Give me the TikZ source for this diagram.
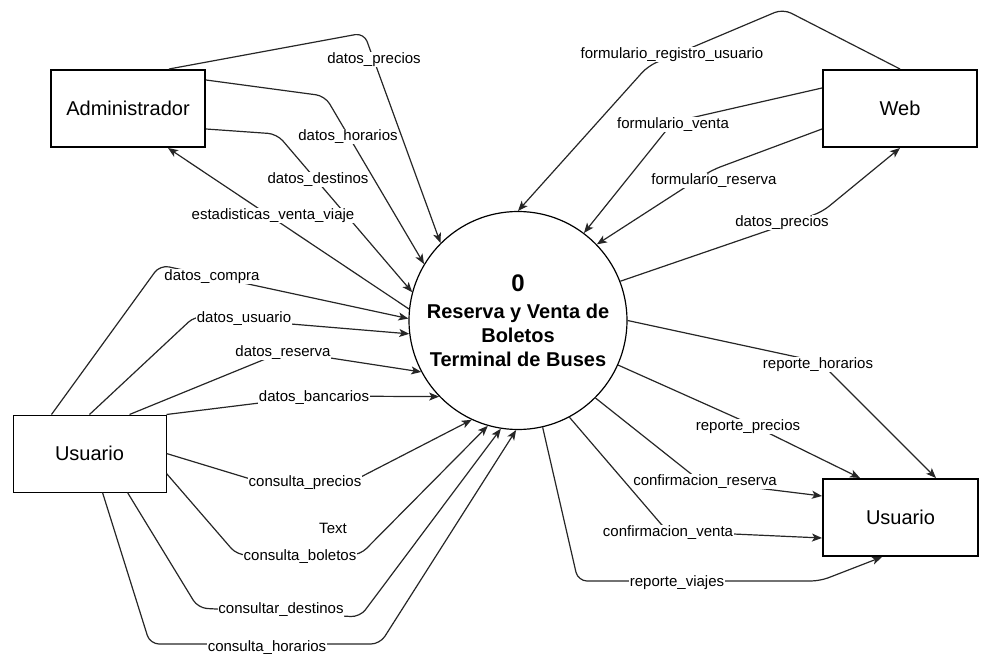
\documentclass[tikz,border=0pt]{standalone}
\usepackage{fontspec}
\setmainfont{Liberation Sans}
\usetikzlibrary{arrows.meta}
\begin{document}
\begin{tikzpicture}[x=1pt,y=-1pt,
  flow/.style={draw=black!85, line width=1.2pt, rounded corners=9pt, -{Stealth[length=10pt,width=8pt,inset=2.5pt]}},
  lbl/.style={fill=white, inner sep=0.6pt, yshift=-1.8pt, font=\fontsize{15}{18}\selectfont},
  entity/.style={draw, line width=2pt, minimum width=154pt, minimum height=77pt, font=\fontsize{20}{24}\selectfont, inner sep=0pt},
  process/.style={draw, circle, line width=1.2pt, minimum size=218pt, inner sep=0pt, align=center, font=\bfseries\fontsize{20}{24}\selectfont},
]
\useasboundingbox (0,0) rectangle (1005,661);

% nodes
\node[entity] (admin) at (128,108.5) {Administrador};
\node[entity] (web) at (900,108.5) {Web};
\node[entity, line width=1pt, minimum width=153pt] (userL) at (89.5,453.5) {Usuario};
\node[entity, minimum width=155pt] (userR) at (900.5,517.5) {Usuario};
\node[process] (proc) at (518,320.5) {{\fontsize{24}{28}\selectfont 0}\\[3pt]Reserva y Venta de\\Boletos\\Terminal de Buses};

% Administrador flows
\draw[flow] ([xshift=119pt]admin.north west) -- (364,33) -- (proc.135);
\draw[flow] ([yshift=-11pt]admin.north east) -- (325,96) -- (proc.149);
\draw[flow] ([yshift=19pt]admin.south east) -- (277,134) -- (proc.165);
\draw[flow] (proc.174) -- ([xshift=118pt]admin.south west);

% Usuario (left) flows
\draw[flow] ([xshift=39pt]userL.north west) -- (160,265) -- (proc.179);
\draw[flow] (userL.north) -- (195,316) -- (proc.187);
\draw[flow] ([xshift=117pt]userL.north west) -- (285,351) -- (proc.208);
\draw[flow] (userL.north east) -- (316,396) -- (proc.224);
\draw[flow] (userL.east) -- (257,481) -- (353,481) -- (proc.245);
\draw[flow] ([yshift=-20pt]userL.east) -- (237,555) -- (360,555) -- (proc.254);
\draw[flow] ([xshift=115pt]userL.south west) -- (198,608) -- (360,617) -- (proc.261);
\draw[flow] ([xshift=90pt]userL.south west) -- (150,644) -- (380,644) -- (proc.269);

% Web flows
\draw[flow] (web.north) -- (783,9) -- (648,66) -- (proc.90);
\draw[flow] ([yshift=-19pt]web.north west) -- (673,122) -- (proc.53);
\draw[flow] ([yshift=19pt]web.south west) -- (712,170) -- (proc.44);
\draw[flow] (proc.21) -- (822,212) -- (web.south);

% Usuario (right) flows
\draw[flow] (proc.0) -- (820,362) -- ([xshift=114pt]userR.north west);
\draw[flow] (proc.336) -- (750,424) -- ([xshift=38pt]userR.north west);
\draw[flow] (proc.315) -- (700,481) -- ([yshift=-18pt]userR.north west);
\draw[flow] (proc.298) -- (667,531) -- ([yshift=19pt]userR.south west);
\draw[flow] (proc.283) -- (578,581) -- (820,581) -- ([xshift=60pt]userR.south west);

% labels
\node[lbl] (l1) at (374,58) {datos\_precios};
\node[lbl] (l2) at (348,135) {datos\_horarios};
\node[lbl] (l3) at (318,178) {datos\_destinos};
\node[lbl] (l4) at (273,214) {estadisticas\_venta\_viaje};
\node[lbl] (l5) at (212,275) {datos\_compra};
\node[lbl] (l6) at (244,317) {datos\_usuario};
\node[lbl] (l7) at (283,351) {datos\_reserva};
\node[lbl] (l8) at (314,396) {datos\_bancarios};
\node[lbl] (l9) at (305,481) {consulta\_precios};
\node[lbl] (ltext) at (333,527) {Text};
\node[lbl] (l10) at (300,555) {consulta\_boletos};
\node[lbl] (l11) at (281,608) {consultar\_destinos};
\node[lbl] (l12) at (267,646) {consulta\_horarios};
\node[lbl] (l13) at (672,53) {formulario\_registro\_usuario};
\node[lbl] (l14) at (673,123) {formulario\_venta};
\node[lbl] (l15) at (714,179) {formulario\_reserva};
\node[lbl] (l16) at (782,221) {datos\_precios};
\node[lbl] (l17) at (818,363) {reporte\_horarios};
\node[lbl] (l18) at (748,425) {reporte\_precios};
\node[lbl] (l19) at (705,480) {confirmacion\_reserva};
\node[lbl] (l20) at (668,531) {confirmacion\_venta};
\node[lbl] (l21) at (677,581) {reporte\_viajes};
\end{tikzpicture}
\end{document}
